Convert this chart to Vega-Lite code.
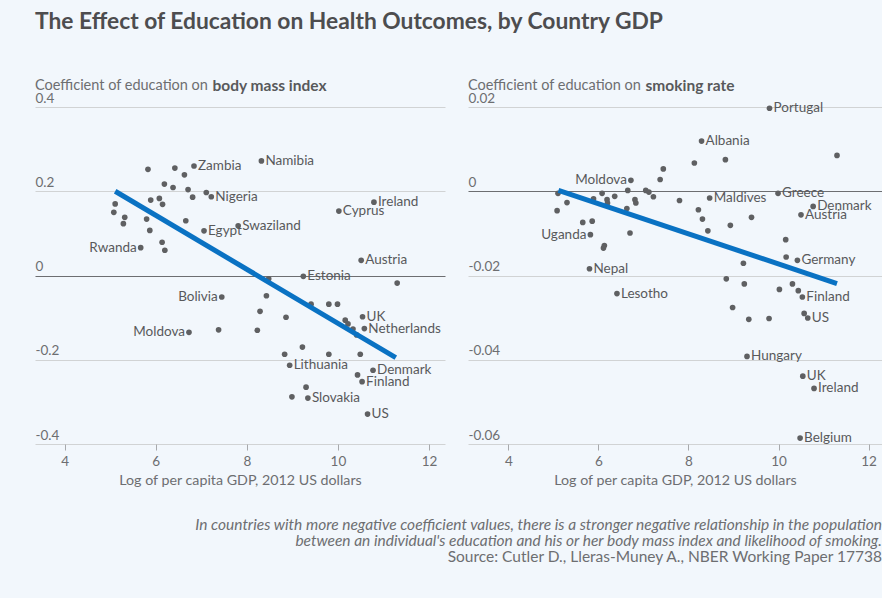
{
  "$schema": "https://vega.github.io/schema/vega-lite/v6.json",
  "background": "#f2f7fc",
  "padding": {"left": 35, "top": 10, "right": 0, "bottom": 40},
  "title": {"text": "The Effect of Education on Health Outcomes, by Country GDP", "anchor": "start", "fontSize": 22.8, "fontWeight": "bold", "color": "#4d4d4f", "font": "Lato", "offset": 44},
  "datasets": {
    "bmi": [
      {"country": "Zambia", "gdp": 6.84, "coef": 0.260},
      {"country": "Namibia", "gdp": 8.32, "coef": 0.272},
      {"country": "Nigeria", "gdp": 7.22, "coef": 0.187},
      {"country": "Egypt", "gdp": 7.06, "coef": 0.106},
      {"country": "Swaziland", "gdp": 7.81, "coef": 0.118},
      {"country": "Rwanda", "gdp": 5.67, "coef": 0.066},
      {"country": "Cyprus", "gdp": 10.02, "coef": 0.153},
      {"country": "Ireland", "gdp": 10.79, "coef": 0.174},
      {"country": "Austria", "gdp": 10.51, "coef": 0.036},
      {"country": "Estonia", "gdp": 9.24, "coef": -0.002},
      {"country": "Bolivia", "gdp": 7.45, "coef": -0.051},
      {"country": "UK", "gdp": 10.54, "coef": -0.098},
      {"country": "Netherlands", "gdp": 10.58, "coef": -0.126},
      {"country": "Moldova", "gdp": 6.73, "coef": -0.135},
      {"country": "Lithuania", "gdp": 8.94, "coef": -0.213},
      {"country": "Denmark", "gdp": 10.77, "coef": -0.225},
      {"country": "Finland", "gdp": 10.53, "coef": -0.252},
      {"country": "Slovakia", "gdp": 9.34, "coef": -0.291},
      {"country": "US", "gdp": 10.65, "coef": -0.329},
      {"country": null, "gdp": 5.83, "coef": 0.252},
      {"country": null, "gdp": 6.42, "coef": 0.255},
      {"country": null, "gdp": 6.63, "coef": 0.239},
      {"country": null, "gdp": 6.19, "coef": 0.217},
      {"country": null, "gdp": 6.38, "coef": 0.209},
      {"country": null, "gdp": 6.71, "coef": 0.204},
      {"country": null, "gdp": 7.11, "coef": 0.197},
      {"country": null, "gdp": 6.81, "coef": 0.186},
      {"country": null, "gdp": 5.89, "coef": 0.179},
      {"country": null, "gdp": 6.08, "coef": 0.183},
      {"country": null, "gdp": 6.15, "coef": 0.169},
      {"country": null, "gdp": 5.11, "coef": 0.170},
      {"country": null, "gdp": 5.08, "coef": 0.150},
      {"country": null, "gdp": 5.32, "coef": 0.138},
      {"country": null, "gdp": 5.29, "coef": 0.123},
      {"country": null, "gdp": 5.80, "coef": 0.134},
      {"country": null, "gdp": 6.66, "coef": 0.130},
      {"country": null, "gdp": 5.87, "coef": 0.107},
      {"country": null, "gdp": 6.14, "coef": 0.079},
      {"country": null, "gdp": 6.20, "coef": 0.060},
      {"country": null, "gdp": 8.48, "coef": -0.008},
      {"country": null, "gdp": 11.30, "coef": -0.018},
      {"country": null, "gdp": 8.43, "coef": -0.048},
      {"country": null, "gdp": 9.41, "coef": -0.068},
      {"country": null, "gdp": 9.80, "coef": -0.068},
      {"country": null, "gdp": 9.99, "coef": -0.068},
      {"country": null, "gdp": 8.29, "coef": -0.085},
      {"country": null, "gdp": 8.86, "coef": -0.099},
      {"country": null, "gdp": 10.16, "coef": -0.106},
      {"country": null, "gdp": 10.22, "coef": -0.115},
      {"country": null, "gdp": 10.33, "coef": -0.127},
      {"country": null, "gdp": 10.41, "coef": -0.141},
      {"country": null, "gdp": 7.38, "coef": -0.129},
      {"country": null, "gdp": 8.23, "coef": -0.130},
      {"country": null, "gdp": 9.22, "coef": -0.170},
      {"country": null, "gdp": 8.83, "coef": -0.187},
      {"country": null, "gdp": 9.80, "coef": -0.187},
      {"country": null, "gdp": 10.49, "coef": -0.187},
      {"country": null, "gdp": 10.43, "coef": -0.236},
      {"country": null, "gdp": 9.30, "coef": -0.265},
      {"country": null, "gdp": 8.99, "coef": -0.288}
    ],
    "bmi_fit": [
      {"gdp": 5.11, "coef": 0.200},
      {"gdp": 11.27, "coef": -0.195}
    ],
    "smoking": [
      {"country": "Portugal", "gdp": 9.80, "coef": 0.0197},
      {"country": "Albania", "gdp": 8.29, "coef": 0.0119},
      {"country": "Moldova", "gdp": 6.72, "coef": 0.0026},
      {"country": "Maldives", "gdp": 8.47, "coef": -0.0016},
      {"country": "Greece", "gdp": 9.99, "coef": -0.0005},
      {"country": "Denmark", "gdp": 10.77, "coef": -0.0036},
      {"country": "Austria", "gdp": 10.50, "coef": -0.0056},
      {"country": "Uganda", "gdp": 5.82, "coef": -0.0103},
      {"country": "Germany", "gdp": 10.42, "coef": -0.0164},
      {"country": "Nepal", "gdp": 5.80, "coef": -0.0184},
      {"country": "Lesotho", "gdp": 6.41, "coef": -0.0243},
      {"country": "Finland", "gdp": 10.53, "coef": -0.0251},
      {"country": "US", "gdp": 10.65, "coef": -0.0301},
      {"country": "Hungary", "gdp": 9.30, "coef": -0.0392},
      {"country": "UK", "gdp": 10.54, "coef": -0.0439},
      {"country": "Ireland", "gdp": 10.79, "coef": -0.0468},
      {"country": "Belgium", "gdp": 10.48, "coef": -0.0586},
      {"country": null, "gdp": 11.30, "coef": 0.0085},
      {"country": null, "gdp": 8.13, "coef": 0.0067},
      {"country": null, "gdp": 8.82, "coef": 0.0075},
      {"country": null, "gdp": 7.44, "coef": 0.0053},
      {"country": null, "gdp": 7.37, "coef": 0.0028},
      {"country": null, "gdp": 6.65, "coef": 0.0002},
      {"country": null, "gdp": 7.05, "coef": 0.0002},
      {"country": null, "gdp": 7.12, "coef": -0.0002},
      {"country": null, "gdp": 7.22, "coef": -0.0013},
      {"country": null, "gdp": 5.10, "coef": -0.0005},
      {"country": null, "gdp": 5.30, "coef": -0.0027},
      {"country": null, "gdp": 5.08, "coef": -0.0046},
      {"country": null, "gdp": 5.89, "coef": -0.0018},
      {"country": null, "gdp": 6.08, "coef": -0.0005},
      {"country": null, "gdp": 6.19, "coef": -0.0020},
      {"country": null, "gdp": 6.20, "coef": -0.0028},
      {"country": null, "gdp": 6.36, "coef": -0.0012},
      {"country": null, "gdp": 6.81, "coef": -0.0020},
      {"country": null, "gdp": 6.83, "coef": -0.0028},
      {"country": null, "gdp": 6.63, "coef": -0.0041},
      {"country": null, "gdp": 7.80, "coef": -0.0022},
      {"country": null, "gdp": 8.22, "coef": -0.0044},
      {"country": null, "gdp": 8.31, "coef": -0.0066},
      {"country": null, "gdp": 9.40, "coef": -0.0062},
      {"country": null, "gdp": 8.93, "coef": -0.0081},
      {"country": null, "gdp": 8.43, "coef": -0.0094},
      {"country": null, "gdp": 5.65, "coef": -0.0074},
      {"country": null, "gdp": 5.86, "coef": -0.0071},
      {"country": null, "gdp": 6.70, "coef": -0.0099},
      {"country": null, "gdp": 6.13, "coef": -0.0129},
      {"country": null, "gdp": 6.11, "coef": -0.0135},
      {"country": null, "gdp": 10.16, "coef": -0.0115},
      {"country": null, "gdp": 10.17, "coef": -0.0156},
      {"country": null, "gdp": 9.22, "coef": -0.0171},
      {"country": null, "gdp": 8.84, "coef": -0.0208},
      {"country": null, "gdp": 9.24, "coef": -0.0220},
      {"country": null, "gdp": 10.02, "coef": -0.0233},
      {"country": null, "gdp": 10.31, "coef": -0.0220},
      {"country": null, "gdp": 10.44, "coef": -0.0236},
      {"country": null, "gdp": 8.98, "coef": -0.0276},
      {"country": null, "gdp": 9.34, "coef": -0.0304},
      {"country": null, "gdp": 9.79, "coef": -0.0302},
      {"country": null, "gdp": 10.57, "coef": -0.0290}
    ],
    "smoking_fit": [
      {"gdp": 5.11, "coef": 0.0002},
      {"gdp": 11.30, "coef": -0.0219}
    ]
  },
  "vconcat": [
    {
      "title": {
        "text": ["In countries with more negative coefficient values, there is a stronger negative relationship in the population", "between an individual's education and his or her body mass index and likelihood of smoking."],
        "subtitle": "Source: Cutler D., Lleras-Muney A., NBER Working Paper 17738",
        "orient": "bottom", "anchor": "end", "frame": "bounds",
        "font": "Lato", "fontSize": 15.5, "fontStyle": "italic", "fontWeight": "normal", "color": "#6d6e71", "lineHeight": 16,
        "subtitleFont": "Lato", "subtitleFontSize": 15.5, "subtitleFontStyle": "normal", "subtitleColor": "#6d6e71", "subtitlePadding": 1,
        "offset": 30
      },
      "spacing": 23,
      "hconcat": [
        {
          "width": 410, "height": 337,
          "title": {"text": "Coefficient of education on", "anchor": "start", "frame": "group", "fontSize": 14.5, "fontWeight": "normal", "color": "#6d6e71", "font": "Lato", "offset": -15},
          "encoding": {
            "x": {"field": "gdp", "type": "quantitative", "scale": {"domain": [3.35, 12.35], "nice": false, "zero": false},
                  "axis": {"title": "Log of per capita GDP, 2012 US dollars", "values": [4, 6, 8, 10, 12], "labelExpr": "'' + datum.value", "grid": false, "domain": false, "ticks": true, "tickSize": 6, "tickColor": "#a7a9ac", "labelPadding": 4, "titlePadding": 6}},
            "y": {"field": "coef", "type": "quantitative", "scale": {"domain": [-0.4, 0.4], "nice": false, "zero": false},
                  "axis": {"title": "body mass index", "values": [-0.4, -0.2, 0, 0.2, 0.4], "labelExpr": "'' + datum.value", "grid": true,
                           "gridColor": {"condition": {"test": "datum.value === 0", "value": "#6d6e71"}, "value": "#d1d3d4"},
                           "domain": false, "ticks": false, "tickSize": 0, "labelAlign": "left", "labelBaseline": "alphabetic", "labelOffset": -5, "labelPadding": 0,
                           "titleAngle": 0, "titleAlign": "left", "titleBaseline": "alphabetic", "titleX": 177, "titleY": -17, "titleFontWeight": "bold", "titleColor": "#58595b", "titleFontSize": 15.5}}
          },
          "layer": [
            {"data": {"name": "bmi"},
             "mark": {"type": "circle", "size": 32, "color": "#5f6062", "opacity": 1}},
            {"data": {"name": "bmi_fit"},
             "mark": {"type": "line", "color": "#0a72c3", "strokeWidth": 5}},
            {"data": {"name": "bmi"},
             "transform": [{"filter": "datum.country != null && indexof(['Rwanda','Bolivia','Moldova'], datum.country) < 0"}],
             "mark": {"type": "text", "align": "left", "baseline": "middle", "dx": 4, "fontSize": 13.5, "color": "#58595b"},
             "encoding": {"text": {"field": "country"}}},
            {"data": {"name": "bmi"},
             "transform": [{"filter": {"field": "country", "oneOf": ["Rwanda", "Bolivia", "Moldova"]}}],
             "mark": {"type": "text", "align": "right", "baseline": "middle", "dx": -4, "fontSize": 13.5, "color": "#58595b"},
             "encoding": {"text": {"field": "country"}}}
          ]
        },
        {
          "width": 414, "height": 337,
          "title": {"text": "Coefficient of education on", "anchor": "start", "frame": "group", "fontSize": 14.5, "fontWeight": "normal", "color": "#6d6e71", "font": "Lato", "offset": -15},
          "encoding": {
            "x": {"field": "gdp", "type": "quantitative", "scale": {"domain": [3.1, 12.3], "nice": false, "zero": false},
                  "axis": {"title": "Log of per capita GDP, 2012 US dollars", "values": [4, 6, 8, 10, 12], "labelExpr": "'' + datum.value", "grid": false, "domain": false, "ticks": true, "tickSize": 6, "tickColor": "#a7a9ac", "labelPadding": 4, "titlePadding": 6}},
            "y": {"field": "coef", "type": "quantitative", "scale": {"domain": [-0.06, 0.02], "nice": false, "zero": false},
                  "axis": {"title": "smoking rate", "values": [-0.06, -0.04, -0.02, 0, 0.02], "labelExpr": "'' + datum.value", "grid": true,
                           "gridColor": {"condition": {"test": "datum.value === 0", "value": "#6d6e71"}, "value": "#d1d3d4"},
                           "domain": false, "ticks": false, "tickSize": 0, "labelAlign": "left", "labelBaseline": "alphabetic", "labelOffset": -5, "labelPadding": 0,
                           "titleAngle": 0, "titleAlign": "left", "titleBaseline": "alphabetic", "titleX": 177, "titleY": -17, "titleFontWeight": "bold", "titleColor": "#58595b", "titleFontSize": 15.5}}
          },
          "layer": [
            {"data": {"name": "smoking"},
             "mark": {"type": "circle", "size": 32, "color": "#5f6062", "opacity": 1}},
            {"data": {"name": "smoking_fit"},
             "mark": {"type": "line", "color": "#0a72c3", "strokeWidth": 5}},
            {"data": {"name": "smoking"},
             "transform": [{"filter": "datum.country != null && indexof(['Moldova','Uganda'], datum.country) < 0"}],
             "mark": {"type": "text", "align": "left", "baseline": "middle", "dx": 4, "fontSize": 13.5, "color": "#58595b"},
             "encoding": {"text": {"field": "country"}}},
            {"data": {"name": "smoking"},
             "transform": [{"filter": {"field": "country", "oneOf": ["Moldova", "Uganda"]}}],
             "mark": {"type": "text", "align": "right", "baseline": "middle", "dx": -4, "fontSize": 13.5, "color": "#58595b"},
             "encoding": {"text": {"field": "country"}}}
          ]
        }
      ]
    }
  ],
  "config": {
    "font": "Lato",
    "view": {"stroke": null},
    "axis": {"labelFont": "Lato", "labelFontSize": 13.5, "labelColor": "#6d6e71", "titleFont": "Lato", "titleFontSize": 14.25, "titleFontWeight": "normal", "titleColor": "#6d6e71", "gridColor": "#d1d3d4", "gridWidth": 1.2}
  }
}
